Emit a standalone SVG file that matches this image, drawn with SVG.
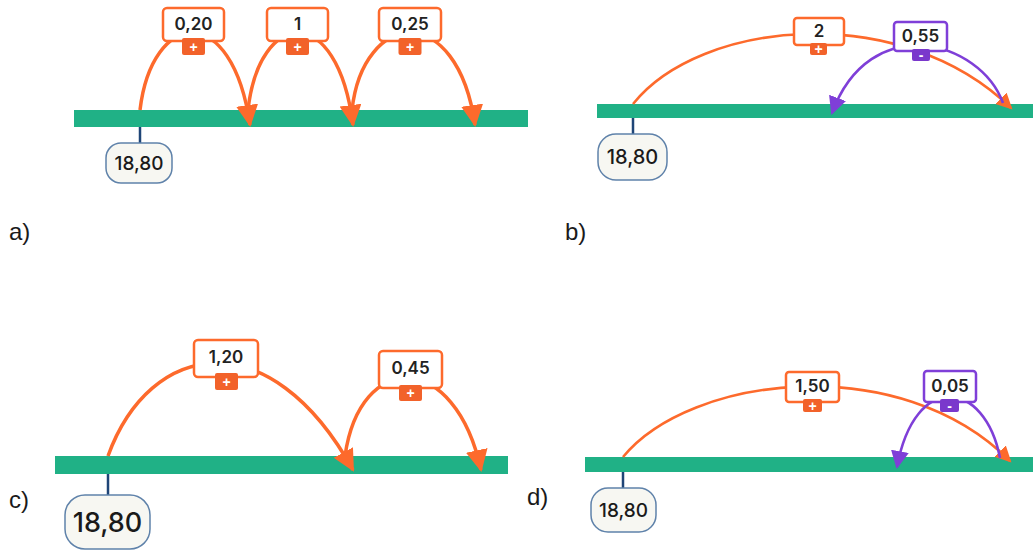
<svg xmlns="http://www.w3.org/2000/svg" width="1033" height="551" viewBox="0 0 1033 551">
<style>
.bar{fill:#20b186}
.tick{stroke:#1f4577;stroke-width:2.5}
.start rect{fill:#f7f7f2;stroke:#5f82aa;stroke-width:1.5}
.start text{font-family:Inter,"Liberation Sans",sans-serif;font-weight:500;fill:#1a1a1a;text-anchor:middle;dominant-baseline:central}
.vo rect.b{fill:#fff;stroke:#fd6a2c;stroke-width:2.5}
.vp rect.b{fill:#fff;stroke:#7f3fd8;stroke-width:2.5}
.vo rect.g{fill:#f2622a}
.vp rect.g{fill:#7a38cc}
.val{font-family:Inter,"Liberation Sans",sans-serif;font-weight:600;font-size:17px;fill:#222;text-anchor:middle;dominant-baseline:central}
.sg{font-family:"Liberation Sans",sans-serif;font-weight:700;font-size:14px;fill:#fff;text-anchor:middle;dominant-baseline:central}
.ao{fill:none;stroke:#fd6a2c}
.ap{fill:none;stroke:#7f3fd8}
.w1{stroke-width:3.5}
.w2{stroke-width:2.6}
.lab{font-family:"Liberation Sans",sans-serif;font-size:24px;fill:#1a1a1a}
</style>
<defs>
<marker id="mA" markerUnits="userSpaceOnUse" markerWidth="24" markerHeight="24" refX="20" refY="11" orient="auto"><path d="M0,0 L22,11 L0,22 z" fill="#fd6a2c"/></marker>
<marker id="mO" markerUnits="userSpaceOnUse" markerWidth="18" markerHeight="18" refX="14" refY="8" orient="auto"><path d="M0,0 L16,8 L0,16 z" fill="#fd6a2c"/></marker>
<marker id="mP" markerUnits="userSpaceOnUse" markerWidth="20" markerHeight="20" refX="16" refY="9" orient="auto"><path d="M0,0 L18,9 L0,18 z" fill="#7f3fd8"/></marker>
</defs>

<!-- number lines -->
<rect class="bar" x="74" y="110" width="454" height="17"/>
<rect class="bar" x="597" y="104" width="436" height="14"/>
<rect class="bar" x="55" y="456" width="453" height="18"/>
<rect class="bar" x="585" y="457" width="448" height="15"/>
<line class="tick" x1="140" y1="127" x2="140" y2="144"/>
<line class="tick" x1="633" y1="118" x2="633" y2="134"/>
<line class="tick" x1="108" y1="474" x2="108" y2="496"/>
<line class="tick" x1="623" y1="472" x2="623" y2="488"/>

<g id="connectors">
<path class="ao w1" d="M140,110 C152,10 232,0 250,125" marker-end="url(#mA)"/>
<path class="ao w1" d="M248,110 C259,10 337,0 353,125" marker-end="url(#mA)"/>
<path class="ao w1" d="M352,110 C363,10 457,0 475,125" marker-end="url(#mA)"/>
<path class="ao w2" d="M633,104 C700,20 900,0 1011,108" marker-end="url(#mO)"/>
<path class="ap w2" d="M1003,103 C980,40 870,10 832,113" marker-end="url(#mP)"/>
<path class="ao w1" d="M108,456 C150,340 270,320 353,470" marker-end="url(#mA)"/>
<path class="ao w1" d="M345,456 C360,350 455,350 481,470" marker-end="url(#mA)"/>
<path class="ao w2" d="M623,457 C690,375 900,350 1010,461" marker-end="url(#mO)"/>
<path class="ap w2" d="M1000,458 C985,380 915,370 897,467" marker-end="url(#mP)"/>
</g>

<!-- a -->
<g id="a-start" class="start"><rect x="106" y="143" width="66" height="40" rx="15"/><text x="139" y="163" font-size="19">18,80</text></g>
<g id="a-v1" class="vo"><rect class="b" x="163" y="8" width="61" height="33" rx="4"/><text class="val" x="193.5" y="24">0,20</text><rect class="g" x="182" y="38" width="23" height="17" rx="2"/><text class="sg" x="193.5" y="46.5">+</text></g>
<g id="a-v2" class="vo"><rect class="b" x="267" y="8" width="61" height="33" rx="4"/><text class="val" x="297.5" y="24">1</text><rect class="g" x="286" y="38" width="23" height="17" rx="2"/><text class="sg" x="297.5" y="46.5">+</text></g>
<g id="a-v3" class="vo"><rect class="b" x="379" y="8" width="62" height="33" rx="4"/><text class="val" x="410" y="24">0,25</text><rect class="g" x="398.5" y="38" width="23" height="17" rx="2"/><text class="sg" x="410" y="46.5">+</text></g>

<!-- b -->
<g id="b-start" class="start"><rect x="598" y="134" width="69" height="46" rx="18"/><text x="632.5" y="157" font-size="20">18,80</text></g>
<g id="b-v1" class="vo"><rect class="b" x="794" y="18" width="50" height="27" rx="3"/><text class="val" x="819" y="31" font-size="14">2</text><rect class="g" x="810" y="43" width="17" height="12" rx="2"/><text class="sg" x="818.5" y="49" font-size="12">+</text></g>
<g id="b-v2" class="vp"><rect class="b" x="894" y="22" width="53" height="29" rx="3"/><text class="val" x="920.5" y="36" font-size="15">0,55</text><rect class="g" x="912" y="49" width="18" height="12" rx="2"/><text class="sg" x="921" y="55" font-size="12">-</text></g>

<!-- c -->
<g id="c-start" class="start"><rect x="65" y="495" width="85" height="54" rx="20"/><text x="107.5" y="522" font-size="27">18,80</text></g>
<g id="c-v1" class="vo"><rect class="b" x="194" y="340" width="64" height="37" rx="4"/><text class="val" x="226" y="357">1,20</text><rect class="g" x="215" y="373" width="23" height="17" rx="2"/><text class="sg" x="226.5" y="381.5">+</text></g>
<g id="c-v2" class="vo"><rect class="b" x="379" y="351" width="63" height="37" rx="4"/><text class="val" x="410.5" y="368">0,45</text><rect class="g" x="399" y="385" width="23" height="16" rx="2"/><text class="sg" x="410.5" y="393">+</text></g>

<!-- d -->
<g id="d-start" class="start"><rect x="591" y="488" width="65" height="44" rx="17"/><text x="623.5" y="510" font-size="19">18,80</text></g>
<g id="d-v1" class="vo"><rect class="b" x="786" y="372" width="53" height="30" rx="3"/><text class="val" x="812.5" y="386" font-size="15">1,50</text><rect class="g" x="803" y="399" width="19" height="13" rx="2"/><text class="sg" x="812.5" y="405.5" font-size="12">+</text></g>
<g id="d-v2" class="vp"><rect class="b" x="924" y="371" width="52" height="31" rx="3"/><text class="val" x="950" y="386" font-size="15">0,05</text><rect class="g" x="940" y="399" width="19" height="13" rx="2"/><text class="sg" x="949.5" y="405.5" font-size="12">-</text></g>

<!-- panel labels -->
<text class="lab" x="9" y="240">a)</text>
<text class="lab" x="565" y="240">b)</text>
<text class="lab" x="9" y="508">c)</text>
<text class="lab" x="527" y="505">d)</text>
</svg>
